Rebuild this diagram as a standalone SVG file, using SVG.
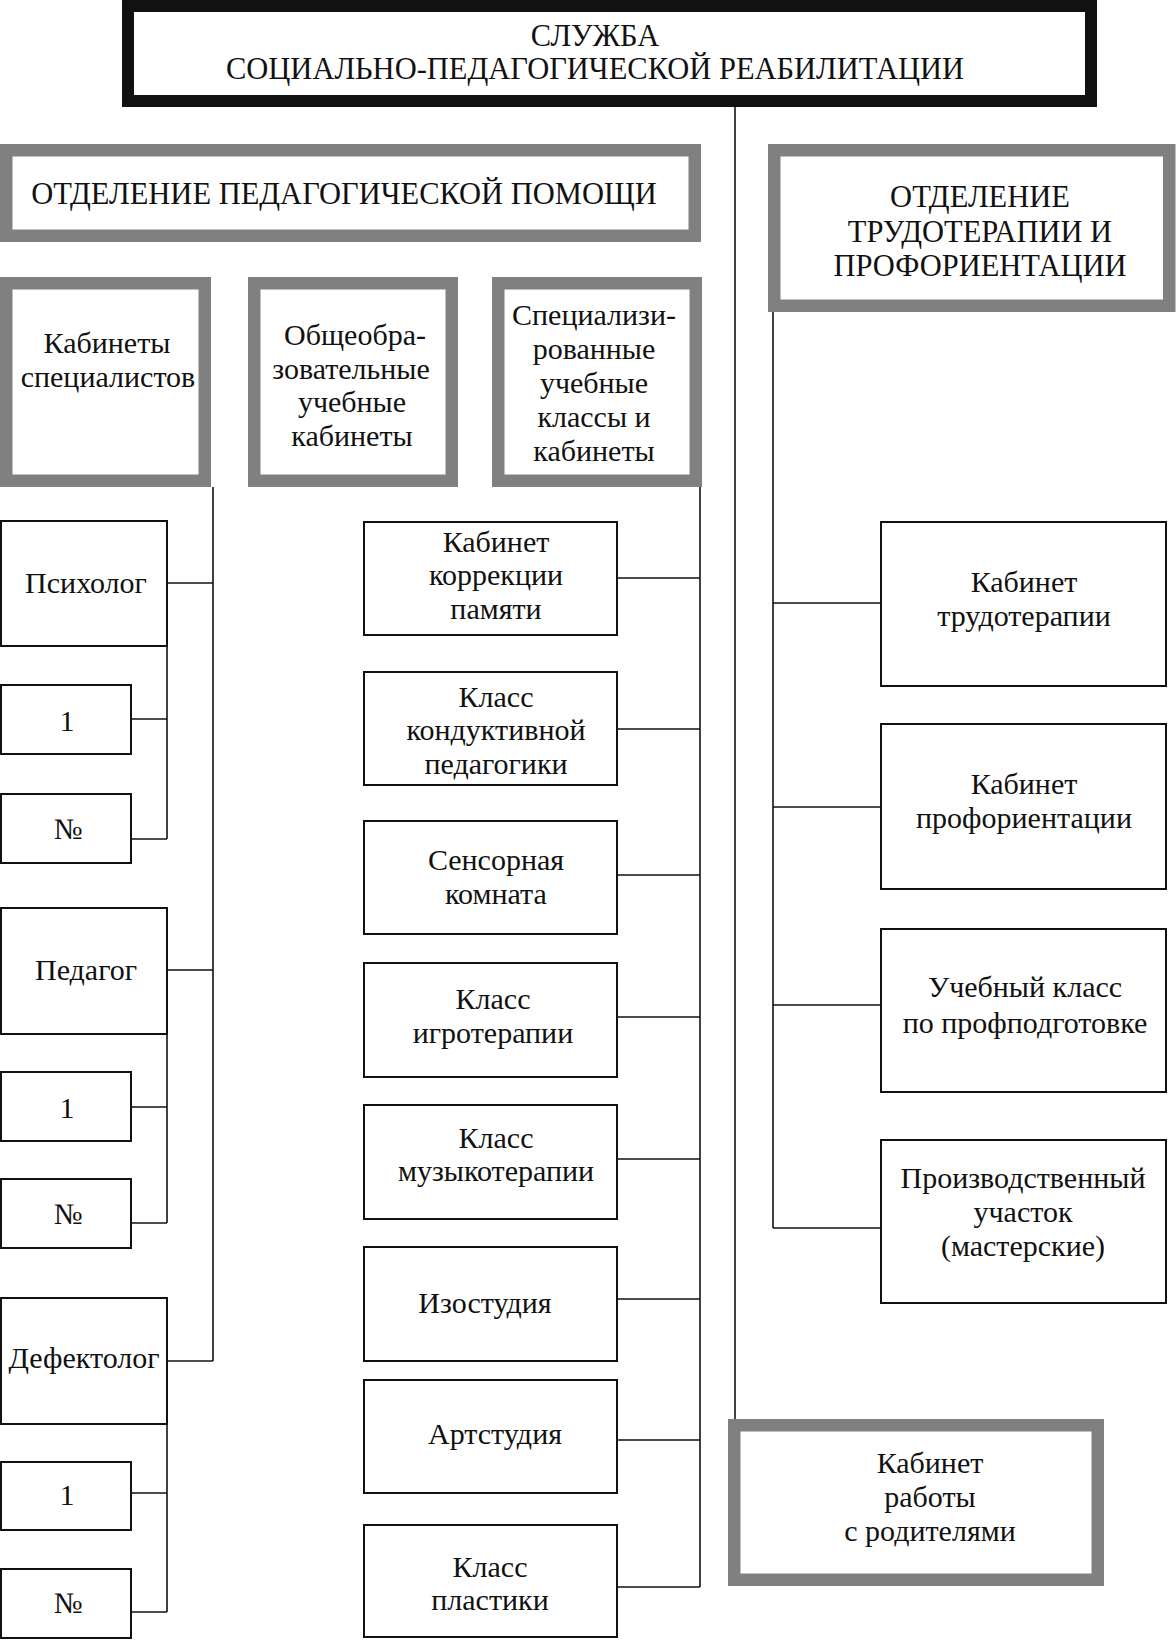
<svg xmlns="http://www.w3.org/2000/svg" width="1176" height="1640" viewBox="0 0 1176 1640">
<style>
.bg{fill:#fff}
.top{fill:#fff;stroke:#111;stroke-width:12}
.g{fill:#fff;stroke:#808080;stroke-width:12.5}
.b{fill:#fff;stroke:#111;stroke-width:2}
.c{fill:none;stroke:#111;stroke-width:1.6}
text{font-family:"Liberation Serif","Times New Roman",serif;font-size:30px;fill:#111;text-anchor:middle}
.h{font-size:30.5px}
</style>
<rect class="bg" x="0" y="0" width="1176" height="1640"/>

<g id="connectors">
<path class="c" d="M735 107 V1420"/>
<path class="c" d="M213 487 V1361"/>
<path class="c" d="M167 583 H213"/>
<path class="c" d="M131 719 H167"/>
<path class="c" d="M131 839 H167"/>
<path class="c" d="M167 646 V839"/>
<path class="c" d="M167 970 H213"/>
<path class="c" d="M131 1107 H167"/>
<path class="c" d="M131 1223 H167"/>
<path class="c" d="M167 1034 V1223"/>
<path class="c" d="M167 1361 H213"/>
<path class="c" d="M131 1493 H167"/>
<path class="c" d="M131 1612 H167"/>
<path class="c" d="M167 1424 V1612"/>
<path class="c" d="M700 478 V1587"/>
<path class="c" d="M617 578 H700"/>
<path class="c" d="M617 729 H700"/>
<path class="c" d="M617 875 H700"/>
<path class="c" d="M617 1017 H700"/>
<path class="c" d="M617 1159 H700"/>
<path class="c" d="M617 1299 H700"/>
<path class="c" d="M617 1440 H700"/>
<path class="c" d="M617 1587 H700"/>
<path class="c" d="M773 298 V1228"/>
<path class="c" d="M773 603 H881"/>
<path class="c" d="M773 807 H881"/>
<path class="c" d="M773 1005 H881"/>
<path class="c" d="M773 1228 H881"/>
</g>

<g id="service">
<rect class="top" x="128" y="6" width="963" height="95"/>
<text class="h" x="595" y="46">СЛУЖБА</text>
<text class="h" x="595" y="79">СОЦИАЛЬНО-ПЕДАГОГИЧЕСКОЙ РЕАБИЛИТАЦИИ</text>
</g>

<g id="dept-ped">
<rect class="g" x="6.25" y="150.25" width="688.5" height="85.5"/>
<text class="h" x="344" y="204">ОТДЕЛЕНИЕ ПЕДАГОГИЧЕСКОЙ ПОМОЩИ</text>
</g>

<g id="dept-trud">
<rect class="g" x="774.25" y="150.25" width="395" height="155.5"/>
<text class="h" x="980" y="207">ОТДЕЛЕНИЕ</text>
<text class="h" x="980" y="242">ТРУДОТЕРАПИИ И</text>
<text class="h" x="980" y="276">ПРОФОРИЕНТАЦИИ</text>
</g>

<g id="kab-spec">
<rect class="g" x="6.25" y="283.25" width="198.5" height="197.5"/>
<text x="107" y="353">Кабинеты</text>
<text x="108" y="387">специалистов</text>
</g>

<g id="obsh">
<rect class="g" x="254.25" y="283.25" width="197.5" height="197.5"/>
<text x="355" y="345">Общеобра-</text>
<text x="351" y="379">зовательные</text>
<text x="352" y="412">учебные</text>
<text x="352" y="446">кабинеты</text>
</g>

<g id="spec">
<rect class="g" x="498.25" y="283.25" width="197.5" height="197.5"/>
<text x="594" y="325">Специализи-</text>
<text x="594" y="359">рованные</text>
<text x="594" y="393">учебные</text>
<text x="594" y="427">классы и</text>
<text x="594" y="461">кабинеты</text>
</g>

<g id="psych">
<rect class="b" x="1" y="521" width="166" height="125"/>
<text x="86" y="593">Психолог</text>
</g>
<g id="psych-1">
<rect class="b" x="1" y="685" width="130" height="69"/>
<text x="67" y="731">1</text>
</g>
<g id="psych-n">
<rect class="b" x="1" y="794" width="130" height="69"/>
<text x="68" y="839">№</text>
</g>

<g id="ped">
<rect class="b" x="1" y="908" width="166" height="126"/>
<text x="86" y="980">Педагог</text>
</g>
<g id="ped-1">
<rect class="b" x="1" y="1072" width="130" height="69"/>
<text x="67" y="1118">1</text>
</g>
<g id="ped-n">
<rect class="b" x="1" y="1179" width="130" height="69"/>
<text x="68" y="1224">№</text>
</g>

<g id="def">
<rect class="b" x="1" y="1298" width="166" height="126"/>
<text x="84" y="1368">Дефектолог</text>
</g>
<g id="def-1">
<rect class="b" x="1" y="1462" width="130" height="68"/>
<text x="67" y="1505">1</text>
</g>
<g id="def-n">
<rect class="b" x="1" y="1569" width="130" height="69"/>
<text x="68" y="1613">№</text>
</g>

<g id="mem">
<rect class="b" x="364" y="522" width="253" height="113"/>
<text x="496" y="552">Кабинет</text>
<text x="496" y="585">коррекции</text>
<text x="496" y="619">памяти</text>
</g>
<g id="kond">
<rect class="b" x="364" y="672" width="253" height="113"/>
<text x="496" y="707">Класс</text>
<text x="496" y="740">кондуктивной</text>
<text x="496" y="774">педагогики</text>
</g>
<g id="sens">
<rect class="b" x="364" y="821" width="253" height="113"/>
<text x="496" y="870">Сенсорная</text>
<text x="496" y="904">комната</text>
</g>
<g id="igro">
<rect class="b" x="364" y="963" width="253" height="114"/>
<text x="493" y="1009">Класс</text>
<text x="493" y="1043">игротерапии</text>
</g>
<g id="muz">
<rect class="b" x="364" y="1105" width="253" height="114"/>
<text x="496" y="1148">Класс</text>
<text x="496" y="1181">музыкотерапии</text>
</g>
<g id="izo">
<rect class="b" x="364" y="1247" width="253" height="114"/>
<text x="485" y="1313">Изостудия</text>
</g>
<g id="art">
<rect class="b" x="364" y="1380" width="253" height="113"/>
<text x="495" y="1444">Артстудия</text>
</g>
<g id="plast">
<rect class="b" x="364" y="1525" width="253" height="112"/>
<text x="490" y="1577">Класс</text>
<text x="490" y="1610">пластики</text>
</g>

<g id="trud">
<rect class="b" x="881" y="522" width="285" height="164"/>
<text x="1024" y="592">Кабинет</text>
<text x="1024" y="626">трудотерапии</text>
</g>
<g id="prof">
<rect class="b" x="881" y="724" width="285" height="165"/>
<text x="1024" y="794">Кабинет</text>
<text x="1024" y="828">профориентации</text>
</g>
<g id="podg">
<rect class="b" x="881" y="929" width="285" height="163"/>
<text x="1025" y="997">Учебный класс</text>
<text x="1025" y="1033">по профподготовке</text>
</g>
<g id="proizv">
<rect class="b" x="881" y="1140" width="285" height="163"/>
<text x="1023" y="1188">Производственный</text>
<text x="1023" y="1222">участок</text>
<text x="1023" y="1256">(мастерские)</text>
</g>

<g id="parents">
<rect class="g" x="734.25" y="1425.25" width="363.5" height="154.5"/>
<text x="930" y="1473">Кабинет</text>
<text x="930" y="1507">работы</text>
<text x="930" y="1541">с родителями</text>
</g>
</svg>
